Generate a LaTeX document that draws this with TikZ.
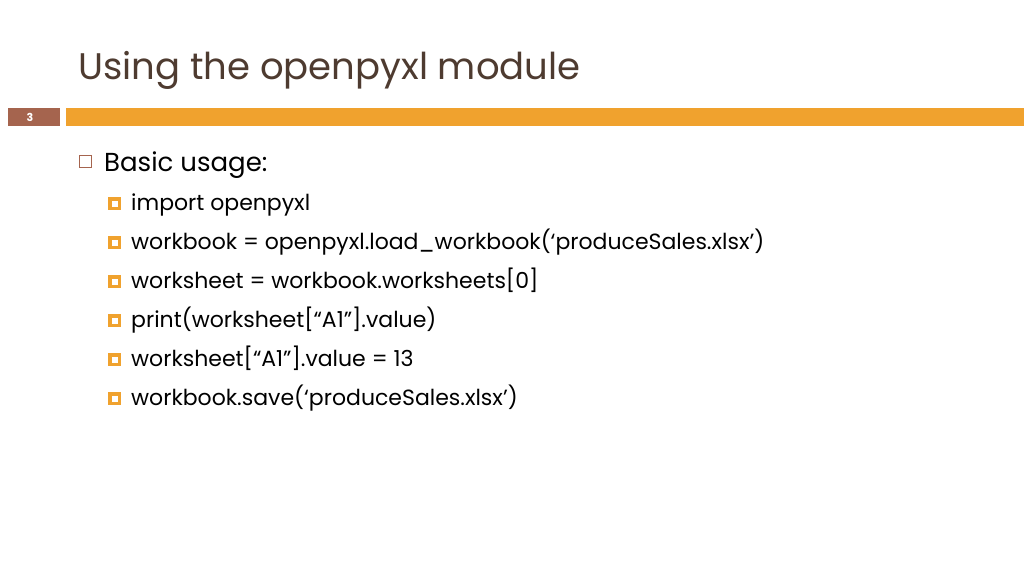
\documentclass[tikz,border=0pt]{standalone}
\usepackage{fontspec}
\setmainfont{Poppins}
\definecolor{titlec}{HTML}{4E3B30}
\definecolor{barc}{HTML}{F0A22E}
\definecolor{numc}{HTML}{A5644E}
\tikzset{
  sub/.style={anchor=base west,inner sep=0pt,font=\fontsize{22}{26}\selectfont},
}
\begin{document}
\begin{tikzpicture}[x=1pt,y=-1pt]
\useasboundingbox (0,0) rectangle (1024,576);
\fill[white] (0,0) rectangle (1024,576);
\node[anchor=base west,inner sep=0pt,text=titlec,font=\fontsize{37}{42}\selectfont] (title) at (78,79) {Using the openpyxl module};
\fill[numc] (8,108) rectangle (60,126);
\node[text=white,font=\bfseries\fontsize{11}{12}\selectfont,inner sep=0pt] (num) at (30,117) {3};
\fill[barc] (66,108) rectangle (1024,126);
\draw[numc,line width=0.9pt] (79,155) rectangle (91,167);
\node[anchor=base west,inner sep=0pt,font=\fontsize{26}{30}\selectfont] (l1) at (104,171) {Basic usage:};
\foreach \y/\t [count=\i] in {210/{import openpyxl},249/{workbook = openpyxl.load\_workbook(‘produceSales.xlsx’)},288/{worksheet = workbook.worksheets[0]},327/{print(worksheet[“A1”].value)},366/{worksheet[“A1”].value = 13},405/{workbook.save(‘produceSales.xlsx’)}}{
  \fill[barc] (108,\y-13) rectangle (121,\y);
  \fill[white] (111.5,\y-9.5) rectangle (117.5,\y-3.5);
  \node[sub] (s\i) at (131,\y) {\t};
}
\end{tikzpicture}
\end{document}
